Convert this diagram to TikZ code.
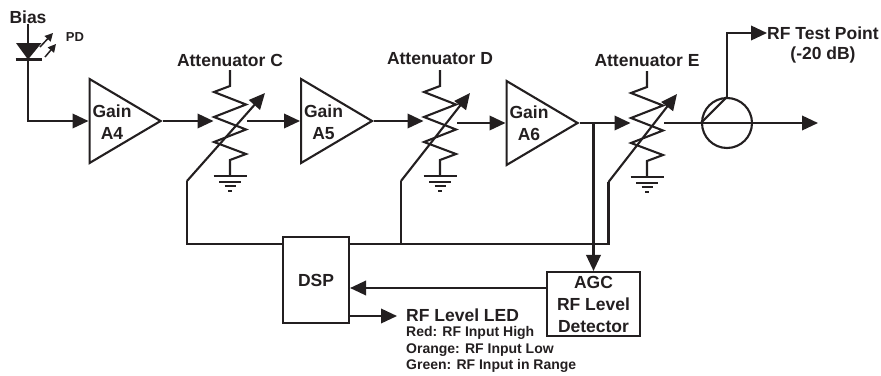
\documentclass[tikz,border=0pt]{standalone}
\usepackage{fontspec}
\setmainfont{Liberation Sans}
\usepackage{tikz}
\usetikzlibrary{arrows.meta,positioning,shapes.geometric}
\definecolor{ink}{HTML}{231F20}
\tikzset{wire/.style={line width=2.1pt,draw=ink,line join=miter},
arr/.style={wire,-{Triangle[length=16pt,width=14.5pt]}},
tinyarr/.style={line width=1.5pt,draw=ink,-{Triangle[length=8pt,width=8pt]}},
lab/.style={font=\fontsize{17.5}{22}\selectfont\bfseries,text=ink,inner sep=0pt,align=center},
sublab/.style={font=\fontsize{14}{16.5}\selectfont\bfseries,text=ink,inner sep=0pt,align=left},
gaintri/.style={isosceles triangle,isosceles triangle apex angle=61,isosceles triangle stretches,minimum width=84pt,minimum height=71pt,inner sep=0pt,wire,anchor=lower side},
blockbox/.style={rectangle,wire,inner sep=0pt,lab}}
\begin{document}
\begin{tikzpicture}[x=1pt,y=-1pt]
\useasboundingbox (0,0) rectangle (881,375);
\node[lab] (bias) at (28,17) {Bias};
\node[lab,font=\fontsize{13}{15}\selectfont\bfseries] (pd) at (75,37) {PD};
\coordinate (pdtop) at (28,43);
\coordinate (pdbot) at (28,59.5);
\coordinate (pdcorner) at (28,121);
\draw[wire] (bias.south) -- (pdtop);
\fill[ink] (16,43) -- (41.5,43) -- (pdbot) -- cycle;
\draw[wire] (15.5,59.5) -- (41.5,59.5);
\draw[tinyarr] (40,47) -- (53,33);
\draw[tinyarr] (45,57) -- (56,44);
\node[gaintri] (a4) at (88.5,121) {};
\node[gaintri] (a5) at (300,121) {};
\node[gaintri] (a6) at (505.5,123) {};
\node[lab] (a4text) at (112,122) {Gain\\A4};
\node[lab] (a5text) at (323.5,122) {Gain\\A5};
\node[lab] (a6text) at (529,123) {Gain\\A6};
\foreach \n/\cx/\cy/\ly/\cl/\tp in {C/230/0/60/-43/35,D/440/0/59/-39/30,E/647/1/61/-38.5/30}{
\begin{scope}[shift={(\cx,\cy)}]
\draw[wire] (0,70) -- (0,86) -- (-16,92) -- (16,104.5) -- (-16,117) -- (16,129.5) -- (-16,142) -- (16,154) -- (0,160) -- (0,176);
\draw[wire] (-16.5,176) -- (16.5,176);
\draw[wire] (-11,181.7) -- (11,181.7);
\draw[wire] (-5.5,186.2) -- (5.5,186.2);
\draw[wire] (-2,190.7) -- (2,190.7);
\coordinate (att\n in) at (-16.5,121);
\coordinate (att\n out) at (17,121);
\coordinate (ctrl\n) at (\cl,181);
\coordinate (ctrl\n tip) at (\tp,93);
\end{scope}
\draw[arr] (ctrl\n) -- (ctrl\n tip);
\node[lab] (att\n text) at (\cx,\ly) {Attenuator \n};
}
\node[circle,wire,minimum size=50pt,inner sep=0pt] (cpl) at (727,123) {};
\node[lab,anchor=west] (rftest) at (767,33) {RF Test Point};
\node[lab] (rfdb) at (823,55) {(-20 dB)};
\coordinate (rfout) at (818,123);
\node[blockbox,minimum width=66pt,minimum height=86pt] (dsp) at (316,280) {DSP};
\node[blockbox,minimum width=93pt,minimum height=64pt] (agc) at (593.5,304) {AGC\\RF Level\\Detector};
\node[lab,anchor=west] (led) at (406,315) {RF Level LED};
\node[sublab,anchor=north west] (ledkey) at (406,326.5) {Red: RF Input High\\Orange: RF Input Low\\Green: RF Input in Range};
\coordinate (busw) at (283,244);
\coordinate (buse) at (349,244);
\coordinate (agcsplit) at (593.5,123);
\draw[arr] (pdbot) -- (pdcorner) -- (a4.lower side);
\draw[arr] (a4.apex) -- (attCin);
\draw[arr] (attCout) -- (a5.lower side);
\draw[arr] (a5.apex) -- (attDin);
\draw[arr] (attDout |- a6.lower side) -- (a6.lower side);
\draw[arr] (a6.apex) -- (attEin |- a6.apex);
\draw[arr] (attEout |- cpl.west) -- (rfout);
\draw[wire] (cpl.west) -- (cpl.north);
\draw[arr] (cpl.north) |- (rftest.west);
\draw[arr] (agcsplit) -- (agc.north);
\draw[arr] (agc.west |- 0,288) -- (dsp.east |- 0,288);
\draw[arr] (dsp.east |- 0,316) -- (397,316);
\draw[wire] (ctrlC) |- (busw);
\draw[wire] (buse) -| (ctrlE);
\draw[wire] (ctrlD) -- (ctrlD |- buse);
\end{tikzpicture}
\end{document}
